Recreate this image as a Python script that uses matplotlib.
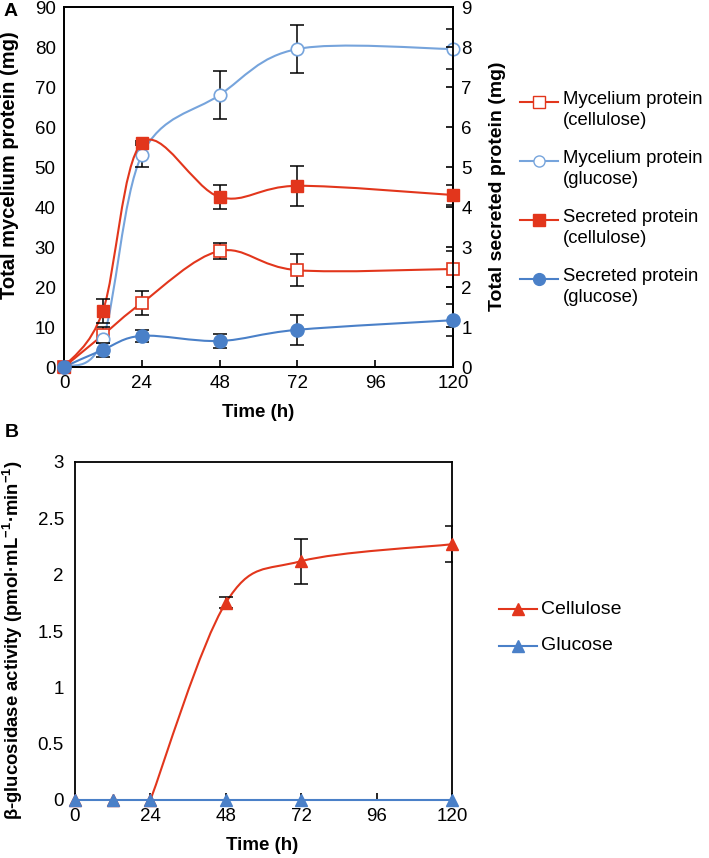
import matplotlib
matplotlib.use('Agg')
import matplotlib.pyplot as plt
import numpy as np
from matplotlib.path import Path
from matplotlib.patches import PathPatch
from matplotlib.lines import Line2D

plt.rcParams['font.family'] = ['Liberation Sans', 'DejaVu Sans']
plt.rcParams['mathtext.fontset'] = 'custom'
plt.rcParams['mathtext.rm'] = 'Liberation Sans'
plt.rcParams['mathtext.bf'] = 'Liberation Sans:bold'
plt.rcParams['mathtext.default'] = 'regular'

# ---------------- data ----------------
time_h = [0, 12, 24, 48, 72, 120]

# panel A, left axis (mg)
myc_cellulose = [0, 8, 16, 29, 24.2, 24.5]
myc_cellulose_err = [0, 2, 3, 2, 4, 4.5]
myc_glucose = [0, 7, 53, 68, 79.5, 79.5]
myc_glucose_err = [0, 0, 3, 6, 6, 5]

# panel A, right axis (mg)
sec_cellulose = [0, 1.4, 5.6, 4.25, 4.53, 4.3]
sec_cellulose_err = [0, 0.3, 0.05, 0.3, 0.5, 0.25]
sec_glucose = [0, 0.43, 0.78, 0.65, 0.93, 1.17]
sec_glucose_err = [0, 0.18, 0.15, 0.17, 0.37, 0.4]

# panel B
bg_cellulose = [0, 0, 0, 1.75, 2.12, 2.27]
bg_cellulose_err = [0, 0, 0, 0.05, 0.2, 0.16]
bg_glucose = [0, 0, 0, 0, 0, 0]

legend_a = ['Mycelium protein\n(cellulose)', 'Mycelium protein\n(glucose)',
            'Secreted protein\n(cellulose)', 'Secreted protein\n(glucose)']
legend_b = ['Cellulose', 'Glucose']

RED = '#E2361C'
BLUE = '#4A80C8'
LBLUE = '#76A4DC'


def smooth(ax, x, y, color, lw=1.5, z=2):
    # excel-like smoothed line: cubic bezier through the points
    pts = np.column_stack([x, y]).astype(float)
    n = len(pts)
    verts = [pts[0]]
    codes = [Path.MOVETO]
    for i in range(n - 1):
        p0 = pts[i - 1] if i > 0 else pts[i]
        p1, p2 = pts[i], pts[i + 1]
        p3 = pts[i + 2] if i + 2 < n else pts[i + 1]
        verts += [p1 + (p2 - p0) / 6, p2 - (p3 - p1) / 6, p2]
        codes += [Path.CURVE4] * 3
    ax.add_patch(PathPatch(Path(verts, codes), fill=False, edgecolor=color,
                           lw=lw, zorder=z))


def errs(ax, x, y, e):
    x = np.array(x); y = np.array(y); e = np.array(e)
    m = e > 0
    ax.errorbar(x[m], y[m], yerr=e[m], fmt='none', ecolor='black',
                elinewidth=1.1, capsize=5, capthick=1.1, zorder=3)


fig = plt.figure(figsize=(7.09, 8.58), dpi=100)

# ******************* Panel A *******************
ax = fig.add_axes([64/709, 1-367/858, (453-64)/709, (367-7)/858])
ax2 = ax.twinx()

errs(ax, time_h, myc_glucose, myc_glucose_err)
errs(ax, time_h, myc_cellulose, myc_cellulose_err)
errs(ax2, time_h, sec_cellulose, sec_cellulose_err)
errs(ax2, time_h, sec_glucose, sec_glucose_err)

smooth(ax, time_h, myc_glucose, LBLUE)
smooth(ax, time_h, myc_cellulose, RED)
smooth(ax2, time_h, sec_cellulose, RED)
smooth(ax2, time_h, sec_glucose, BLUE)

ax.plot(time_h, myc_cellulose, 's', ms=8, mfc='white', mec=RED, mew=1.2,
        zorder=4, clip_on=False)
ax.plot(time_h, myc_glucose, 'o', ms=9, mfc='white', mec=LBLUE, mew=1.2,
        zorder=4, clip_on=False)
ax2.plot(time_h, sec_cellulose, 's', ms=9, color=RED, zorder=4, clip_on=False)
ax2.plot(time_h, sec_glucose, 'o', ms=9.5, color=BLUE, zorder=4, clip_on=False)

ax.set_xlim(0, 120)
ax.set_ylim(0, 90)
ax2.set_ylim(0, 9)
ax.set_xticks([0, 24, 48, 72, 96, 120])
ax.set_yticks(np.arange(0, 91, 10))
ax2.set_yticks(np.arange(0, 10, 1))
ax.tick_params(axis='x', direction='in', length=5, width=1.2, labelsize=13.5, pad=6)
ax.tick_params(axis='y', length=0, labelsize=13.5, pad=6)
ax2.tick_params(axis='y', direction='in', length=5, width=1.2, labelsize=13.5, pad=6)
for a in (ax, ax2):
    for s in a.spines.values():
        s.set_linewidth(1.3)

fig.text(10/709, 1-165/858, 'Total mycelium protein (mg)', rotation=90,
         ha='center', va='center', fontsize=14.5, fontweight='bold')
fig.text(498/709, 1-186/858, 'Total secreted protein (mg)', rotation=90,
         ha='center', va='center', fontsize=14, fontweight='bold')
fig.text(258/709, 1-413/858, 'Time (h)', ha='center', va='center',
         fontsize=13.5, fontweight='bold')
fig.text(4/709, 1-11/858, 'A', ha='left', va='center', fontsize=14,
         fontweight='bold')

# legend A drawn by hand (handle sits on first text line)
styles_a = [dict(marker='s', mfc='white', mec=RED, color=RED, ms=8),
            dict(marker='o', mfc='white', mec=LBLUE, color=LBLUE, ms=8),
            dict(marker='s', mfc=RED, mec=RED, color=RED, ms=8),
            dict(marker='o', mfc=BLUE, mec=BLUE, color=BLUE, ms=8.5)]
for i, (lab, st) in enumerate(zip(legend_a, styles_a)):
    yy = 1 - (102 + 59*i)/858
    fig.add_artist(Line2D([520/709, 558/709], [yy, yy], lw=1.5,
                          color=st['color'], transform=fig.transFigure))
    fig.add_artist(Line2D([539/709], [yy], transform=fig.transFigure,
                          linestyle='none', **st))
    fig.text(563/709, yy + 11/858, lab, ha='left', va='top', fontsize=13.3,
             linespacing=1.3)

# ******************* Panel B *******************
bx = fig.add_axes([75/709, 1-800/858, (452-75)/709, (800-462)/858])
errs(bx, time_h, bg_cellulose, bg_cellulose_err)
smooth(bx, time_h[2:], bg_cellulose[2:], RED)
bx.plot(time_h, bg_cellulose, '^', ms=9, color=RED, zorder=4, clip_on=False)
bx.plot(time_h, bg_glucose, '-', color=BLUE, lw=1.5, zorder=4, clip_on=False)
bx.plot(time_h, bg_glucose, '^', ms=9, color=BLUE, zorder=5, clip_on=False)

bx.set_xlim(0, 120)
bx.set_ylim(0, 3)
bx.set_xticks([0, 24, 48, 72, 96, 120])
bx.set_yticks([0, 0.5, 1, 1.5, 2, 2.5, 3])
bx.set_yticklabels(['0', '0.5', '1', '1.5', '2', '2.5', '3'])
bx.tick_params(axis='x', direction='in', length=5, width=1.2, labelsize=13.5, pad=6)
bx.tick_params(axis='y', length=0, labelsize=13.5, pad=8)
for s in bx.spines.values():
    s.set_linewidth(1.3)

fig.text(13/709, 1-640/858,
         r'β-glucosidase activity (pmol·mL$^{−1}$·min$^{−1}$)',
         rotation=90, ha='center', va='center', fontsize=13.3, fontweight='bold')
fig.text(262/709, 1-846/858, 'Time (h)', ha='center', va='center',
         fontsize=13.5, fontweight='bold')
fig.text(5/709, 1-432/858, 'B', ha='left', va='center', fontsize=14,
         fontweight='bold')

for i, (lab, c) in enumerate(zip(legend_b, [RED, BLUE])):
    yy = 1 - (609 + 37*i)/858
    fig.add_artist(Line2D([499/709, 537/709], [yy, yy], lw=1.5, color=c,
                          transform=fig.transFigure))
    fig.add_artist(Line2D([518/709], [yy], marker='^', ms=9, color=c,
                          linestyle='none', transform=fig.transFigure))
    fig.text(541/709, yy, lab, ha='left', va='center', fontsize=14)

fig.savefig('out.png', dpi=100)
